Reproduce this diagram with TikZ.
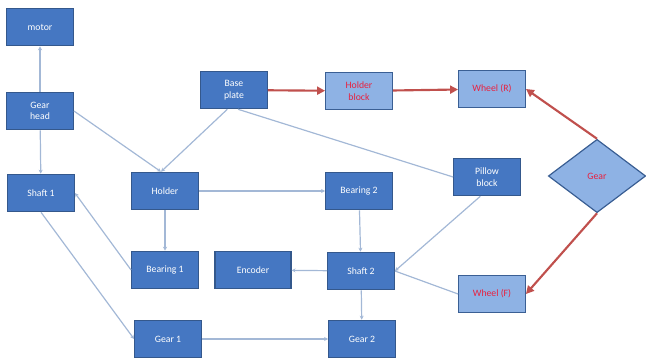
\documentclass[tikz,border=0pt]{standalone}
\usepackage{fontspec}
\setmainfont{Carlito}
\usetikzlibrary{shapes.geometric,arrows.meta}
\definecolor{darkbox}{HTML}{4577C2}
\definecolor{darkedge}{HTML}{34588C}
\definecolor{lightbox}{HTML}{8EB2E4}
\definecolor{lightedge}{HTML}{3A5F94}
\definecolor{redtext}{HTML}{E8213F}
\definecolor{redline}{HTML}{C0504D}
\definecolor{grayline}{HTML}{A3B8D6}
\tikzset{
  blk/.style={draw=darkedge, line width=0.9pt, fill=darkbox, text=white, inner sep=1pt,
    minimum width=50pt, minimum height=28pt, align=center,
    font=\fontsize{7.3}{8.6}\selectfont},
  lblk/.style={blk, fill=lightbox, draw=lightedge, text=redtext},
  dia/.style={diamond, draw=lightedge, line width=0.9pt, fill=lightbox, text=redtext,
    inner sep=0pt, minimum width=73pt, minimum height=55pt, font=\fontsize{7.3}{8.6}\selectfont},
  gl/.style={draw=grayline, line width=0.9pt},
  ga/.style={gl, -{Stealth[length=3pt,width=3pt]}},
  ra/.style={draw=redline, line width=1.6pt, -{Triangle[length=6pt,width=6pt]}}
}
\begin{document}
\begin{tikzpicture}[x=0.75pt,y=-0.75pt]
\useasboundingbox (0,0) rectangle (646,360);
\node[blk] (motor) at (40,27) {motor};
\node[blk] (gearhead) at (40,111) {Gear\\head};
\node[blk] (shaft1) at (41,193) {Shaft 1};
\node[blk] (holder) at (165,191) {Holder};
\node[blk] (bearing1) at (165,270) {Bearing 1};
\node[blk, minimum width=57pt] (encoder) at (253,270) {Encoder};
\node[blk] (gear1) at (168,339) {Gear 1};
\node[blk] (baseplate) at (234,90) {Base\\plate};
\node[lblk] (holderblock) at (359,91) {Holder\\block};
\node[lblk] (wheelr) at (492,89) {Wheel (R)};
\node[blk] (bearing2) at (359,191) {Bearing 2};
\node[blk] (shaft2) at (361,271) {Shaft 2};
\node[blk] (gear2) at (362,339) {Gear 2};
\node[blk] (pillow) at (487,177) {Pillow\\block};
\node[lblk] (wheelf) at (492,294) {Wheel (F)};
\node[dia] (gear) at (597,176) {Gear};

\draw[ga] (gearhead) -- (motor);
\draw[ga] (gearhead) -- (shaft1);
\draw[ga] (gearhead.east) -- ([xshift=-3pt]holder.north);
\draw[ga] ([xshift=-5pt]baseplate.south) -- ([xshift=-3pt]holder.north);
\draw[gl] ([xshift=3pt]baseplate.south) -- (pillow.west);
\draw[ga] (holder) -- (bearing2);
\draw[ga] (holder) -- (bearing1);
\draw[ga] (bearing1.west) -- (shaft1.east);
\draw[ga] (shaft1.south) -- (gear1.west);
\draw[ga] (gear1) -- (gear2);
\draw[ga] (bearing2) -- (shaft2);
\draw[ga] (shaft2) -- (encoder);
\draw[ga] (shaft2) -- (gear2);
\draw[ga] ([xshift=-5pt]pillow.south) -- (shaft2.east);
\draw[gl] (shaft2.east) -- (wheelf.west);

\draw[ra] (baseplate) -- (holderblock);
\draw[ra] (holderblock) -- (wheelr);
\draw[ra] (gear.north) -- (wheelr.east);
\draw[ra] (gear.south) -- (wheelf.east);
\end{tikzpicture}
\end{document}
